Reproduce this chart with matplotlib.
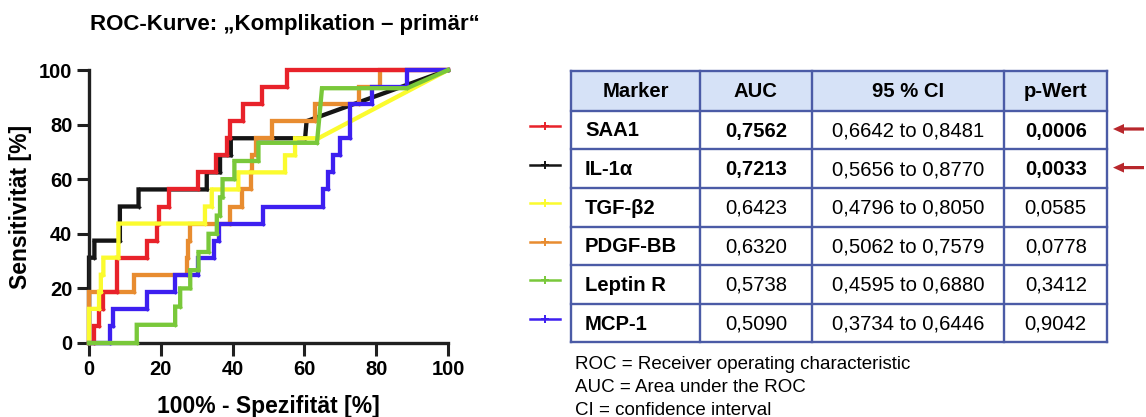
import matplotlib
matplotlib.use("Agg")
import matplotlib.pyplot as plt
from matplotlib.patches import Rectangle, FancyArrow

plt.rcParams['font.family'] = ['Liberation Sans', 'DejaVu Sans']

# ROC points (100% - specificity, sensitivity) in percent
saa1_fpr = [0, 1.3, 1.3, 2.7, 2.7, 4.0, 4.0, 7.9, 7.9, 16.1, 16.1, 18.9, 18.9, 19.4, 19.4,
            22.4, 22.4, 30.3, 30.3, 35.4, 35.4, 38.4, 38.4, 39.3, 39.3, 43.0, 43.0, 48.3,
            48.3, 55.1, 55.1, 100]
saa1_tpr = [0, 0, 6.25, 6.25, 12.5, 12.5, 18.75, 18.75, 31.25, 31.25, 37.5, 37.5, 43.75,
            43.75, 50, 50, 56.25, 56.25, 62.5, 62.5, 68.75, 68.75, 75, 75, 81.25, 81.25,
            87.5, 87.5, 93.75, 93.75, 100, 100]

il1a_fpr = [0, 0, 1.5, 1.5, 8.6, 8.6, 13.8, 13.8, 32.8, 32.8, 36.5, 36.5, 39.5, 39.5,
            60.2, 60.6, 100]
il1a_tpr = [0, 31.25, 31.25, 37.5, 37.5, 50, 50, 56.25, 56.25, 62.5, 62.5, 68.75, 68.75,
            75, 75, 81.25, 100]

tgfb2_fpr = [0, 0, 2.8, 2.8, 3.3, 3.3, 4.0, 4.0, 8.2, 8.2, 32.3, 32.3, 34.2, 34.2, 41.6,
             41.6, 54.6, 54.6, 57.4, 57.4, 63.9, 100]
tgfb2_tpr = [0, 12.5, 12.5, 18.75, 18.75, 25, 25, 31.25, 31.25, 43.75, 43.75, 50, 50,
             56.25, 56.25, 62.5, 62.5, 68.75, 68.75, 75, 75, 100]

pdgf_fpr = [0, 0, 12.4, 12.4, 27.2, 27.2, 27.6, 27.6, 28.0, 28.0, 39.3, 39.3, 42.6, 42.6,
            45.2, 45.2, 45.4, 45.4, 46.5, 46.5, 50.9, 50.9, 63.0, 63.0, 75.1, 75.1, 81.1,
            81.1, 100]
pdgf_tpr = [0, 18.75, 18.75, 25, 25, 31.25, 31.25, 37.5, 37.5, 43.75, 43.75, 50, 50,
            56.25, 56.25, 62.5, 62.5, 68.75, 68.75, 75, 75, 81.25, 81.25, 87.5, 87.5,
            93.75, 93.75, 100, 100]

leptr_fpr = [0, 13.3, 13.3, 24.0, 24.0, 25.4, 25.4, 28.2, 28.2, 30.5, 30.5, 33.3, 33.3,
             35.6, 35.6, 36.5, 36.5, 37.2, 37.2, 40.5, 40.5, 47.2, 47.2, 63.5, 64.9, 88.6,
             100]
leptr_tpr = [0, 0, 6.67, 6.67, 13.33, 13.33, 20, 20, 26.67, 26.67, 33.33, 33.33, 40, 40,
             46.67, 46.67, 53.33, 53.33, 60, 60, 66.67, 66.67, 73.33, 73.33, 93.33, 93.33,
             100]

mcp1_fpr = [0, 5.9, 5.9, 6.8, 6.8, 16.1, 16.1, 24.0, 24.0, 30.5, 30.5, 34.7, 34.7, 36.1,
            36.1, 48.6, 48.6, 65.3, 65.3, 66.7, 66.7, 68.1, 68.1, 70.0, 70.0, 72.8, 72.8,
            78.8, 78.8, 88.6, 88.6, 100]
mcp1_tpr = [0, 0, 6.25, 6.25, 12.5, 12.5, 18.75, 18.75, 25, 25, 31.25, 31.25, 37.5, 37.5,
            43.75, 43.75, 50, 50, 56.25, 56.25, 62.5, 62.5, 68.75, 68.75, 75, 75, 87.5,
            87.5, 93.75, 93.75, 100, 100]

# Summary table
markers = ["SAA1", "IL-1α", "TGF-β2", "PDGF-BB", "Leptin R", "MCP-1"]
auc = [0.7562, 0.7213, 0.6423, 0.6320, 0.5738, 0.5090]
ci_low = [0.6642, 0.5656, 0.4796, 0.5062, 0.4595, 0.3734]
ci_high = [0.8481, 0.8770, 0.8050, 0.7579, 0.6880, 0.6446]
p_values = [0.0006, 0.0033, 0.0585, 0.0778, 0.3412, 0.9042]
headers = ["Marker", "AUC", "95 % CI", "p-Wert"]
footnotes = ["ROC = Receiver operating characteristic",
             "AUC = Area under the ROC",
             "CI = confidence interval"]

colors = ["#e8222a", "#151515", "#fbfb2e", "#e88c30", "#79c83a", "#3d1ff0"]
curves = [(saa1_fpr, saa1_tpr), (il1a_fpr, il1a_tpr), (tgfb2_fpr, tgfb2_tpr),
          (pdgf_fpr, pdgf_tpr), (leptr_fpr, leptr_tpr), (mcp1_fpr, mcp1_tpr)]
zorders = [4, 2, 5, 3, 7, 6]

W, H = 1146, 417
fig = plt.figure(figsize=(W / 100, H / 100), dpi=100)

# ---- ROC plot ----
ax = fig.add_axes([89 / W, 1 - 343 / H, 359 / W, 273 / H])
for (fx, ty), c, z in zip(curves, colors, zorders):
    ax.plot(fx, ty, color=c, lw=3.1, zorder=z, clip_on=False,
            solid_joinstyle='miter', marker='+', ms=3, mew=1.0)
ax.set_xlim(0, 100)
ax.set_ylim(0, 100)
ax.set_xticks(range(0, 101, 20))
ax.set_yticks(range(0, 101, 20))
for s in ("top", "right"):
    ax.spines[s].set_visible(False)
for s in ("left", "bottom"):
    ax.spines[s].set_linewidth(2.4)
    ax.spines[s].set_color("#202020")
ax.tick_params(length=9, width=2.2, color="#202020", labelsize=14.5, pad=3)
for lab in ax.get_xticklabels() + ax.get_yticklabels():
    lab.set_fontweight("bold")
ax.set_xlabel("100% - Spezifität [%]", fontsize=16.5, fontweight="bold", labelpad=12)
ax.set_ylabel("Sensitivität [%]", fontsize=16.5, fontweight="bold", labelpad=5)

fig.text(90 / W, 1 - 30 / H, "ROC-Kurve: „Komplikation – primär“", fontsize=16,
         fontweight="bold", ha="left", va="baseline")

# ---- table drawn in pixel coordinates ----
tax = fig.add_axes([0, 0, 1, 1])
tax.set_xlim(0, W)
tax.set_ylim(H, 0)
tax.axis("off")

col_x = [571, 700, 811.7, 1004.3, 1107.3]
top, head_bottom, bottom = 71, 110.7, 342.3
row_h = (bottom - head_bottom) / len(markers)
border = "#4b5ba6"

tax.add_patch(Rectangle((col_x[0], top), col_x[-1] - col_x[0], head_bottom - top,
                        facecolor="#d6e2f7", edgecolor="none"))
for x in col_x:
    tax.plot([x, x], [top, bottom], color=border, lw=1.7)
tax.plot([col_x[0], col_x[-1]], [top, top], color=border, lw=1.7)
for i in range(len(markers) + 1):
    y = head_bottom + i * row_h
    tax.plot([col_x[0], col_x[-1]], [y, y], color=border, lw=1.7)

for j, h in enumerate(headers):
    tax.text((col_x[j] + col_x[j + 1]) / 2, (top + head_bottom) / 2 + 1, h,
             fontsize=14.6, fontweight="bold", ha="center", va="center")


def fmt(v):
    return f"{v:.4f}".replace(".", ",")


for i, name in enumerate(markers):
    yc = head_bottom + (i + 0.5) * row_h + 1
    sig = p_values[i] < 0.05
    w = "bold" if sig else "normal"
    tax.text(585, yc, name, fontsize=14.6, fontweight="bold", ha="left", va="center")
    tax.text((col_x[1] + col_x[2]) / 2, yc, fmt(auc[i]), fontsize=14.6,
             fontweight=w, ha="center", va="center")
    tax.text((col_x[2] + col_x[3]) / 2, yc, f"{fmt(ci_low[i])} to {fmt(ci_high[i])}",
             fontsize=14.6, ha="center", va="center")
    tax.text((col_x[3] + col_x[4]) / 2, yc, fmt(p_values[i]), fontsize=14.6,
             fontweight=w, ha="center", va="center")
    # legend sample
    ly = yc - 5
    tax.plot([530, 560], [ly, ly], color=colors[i], lw=1.8)
    tax.plot([545], [ly], color=colors[i], marker="+", ms=6, mew=1.4)
    # arrow marking significant markers
    if sig:
        tax.add_patch(FancyArrow(1144, yc - 2, -31, 0, width=3.2, head_width=10,
                                 head_length=11, length_includes_head=True,
                                 color="#b8272c", lw=0))

for k, line in enumerate(footnotes):
    tax.text(575, 369 + k * 22.8, line, fontsize=13.5, ha="left", va="baseline")

fig.savefig("out.png", dpi=100)
